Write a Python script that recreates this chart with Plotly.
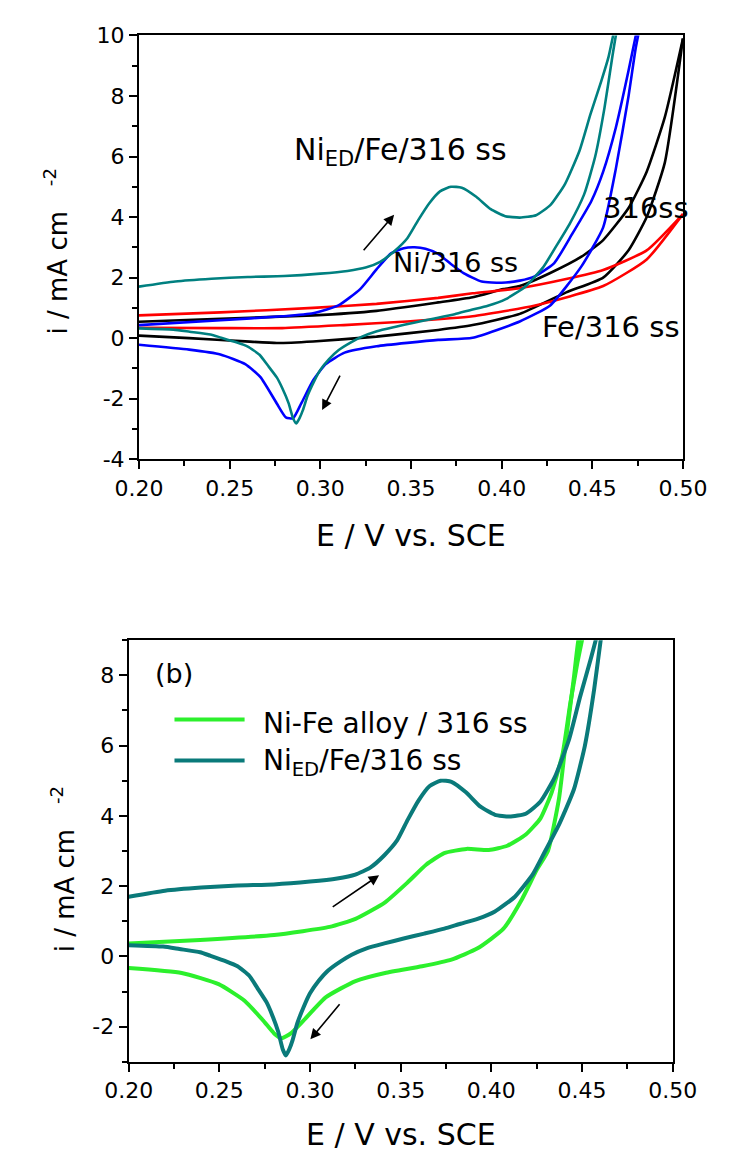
import plotly.graph_objects as go

W, H = 735, 1159

# ---------------- data (E / V vs. SCE, i / mA cm^-2) ----------------
# Ni_ED/Fe/316 ss (same dataset in both panels)
teal_fwd_E = [0.200, 0.220, 0.240, 0.260, 0.280, 0.300, 0.315, 0.325, 0.333, 0.341, 0.348, 0.354,
              0.360, 0.366, 0.372, 0.378, 0.386, 0.394, 0.402, 0.410, 0.419, 0.427, 0.435, 0.443,
              0.449, 0.455, 0.459, 0.4615, 0.464]
teal_fwd_i = [1.70, 1.87, 1.96, 2.02, 2.05, 2.13, 2.22, 2.33, 2.52, 2.88, 3.30, 3.90,
              4.45, 4.85, 5.00, 4.97, 4.67, 4.26, 4.03, 3.98, 4.06, 4.40, 5.10, 6.20,
              7.40, 8.50, 9.30, 10.0, 10.7]
teal_rev_E = [0.4655, 0.4630, 0.4608, 0.4567, 0.4516, 0.4455, 0.4373, 0.4292, 0.4230, 0.4130,
              0.4020, 0.3924, 0.3830, 0.3741, 0.3630, 0.3516, 0.3410, 0.3312, 0.3230, 0.3169,
              0.3100, 0.3047, 0.3000, 0.2965, 0.2930, 0.2904, 0.2885, 0.2867, 0.2850, 0.2825,
              0.2790, 0.2760, 0.2710, 0.2665, 0.2600, 0.2537, 0.2450, 0.2394, 0.2280, 0.2190, 0.2000]
teal_rev_i = [10.7, 10.0, 9.2, 7.6, 6.0, 4.75, 3.75, 2.95, 2.35, 1.70,
              1.28, 1.07, 0.93, 0.79, 0.65, 0.51, 0.37, 0.23, 0.05, -0.14,
              -0.40, -0.70, -1.05, -1.44, -1.90, -2.38, -2.65, -2.82, -2.65, -2.15,
              -1.65, -1.30, -0.90, -0.55, -0.28, -0.14, 0.02, 0.12, 0.21, 0.28, 0.32]

# Ni/316 ss
blue_fwd_E = [0.200, 0.245, 0.279, 0.296, 0.310, 0.322, 0.331, 0.339, 0.346, 0.352, 0.358, 0.365,
              0.372, 0.379, 0.389, 0.400, 0.410, 0.4185, 0.429, 0.439, 0.4495, 0.456, 0.463,
              0.470, 0.474, 0.477]
blue_fwd_i = [0.43, 0.59, 0.72, 0.82, 1.08, 1.62, 2.27, 2.80, 2.97, 3.00, 2.95, 2.78,
              2.45, 2.15, 1.87, 1.83, 1.90, 2.05, 2.48, 3.45, 4.53, 5.50, 6.96,
              8.84, 10.0, 10.8]
blue_rev_E = [0.478, 0.474, 0.470, 0.463, 0.456, 0.444, 0.4268, 0.410, 0.384, 0.365, 0.331,
              0.3134, 0.303, 0.296, 0.2895, 0.285, 0.281, 0.276, 0.267, 0.2586, 0.2449, 0.2277, 0.200]
blue_rev_i = [10.8, 9.6, 8.0, 5.6, 3.66, 2.37, 1.08, 0.55, 0.01, -0.06, -0.27,
              -0.48, -0.86, -1.40, -2.16, -2.65, -2.62, -2.16, -1.29, -0.86, -0.54, -0.38, -0.22]

# 316ss
black_fwd_E = [0.200, 0.245, 0.296, 0.331, 0.365, 0.384, 0.401, 0.410, 0.4268, 0.444, 0.456,
               0.470, 0.480, 0.490, 0.500]
black_fwd_i = [0.54, 0.64, 0.75, 0.90, 1.18, 1.35, 1.62, 1.72, 2.15, 2.69, 3.24,
               4.30, 5.50, 7.30, 9.90]
black_rev_E = [0.500, 0.490, 0.480, 0.470, 0.456, 0.4356, 0.410, 0.384, 0.365, 0.331, 0.296,
               0.276, 0.2586, 0.2277, 0.200]
black_rev_i = [9.90, 5.80, 4.00, 2.90, 2.00, 1.51, 0.80, 0.43, 0.27, 0.05, -0.11,
               -0.16, -0.11, 0.00, 0.08]

# Fe/316 ss
red_fwd_E = [0.200, 0.245, 0.296, 0.331, 0.365, 0.384, 0.410, 0.4356, 0.456, 0.480, 0.500]
red_fwd_i = [0.75, 0.85, 1.00, 1.13, 1.33, 1.48, 1.65, 1.95, 2.25, 2.90, 4.10]
red_rev_E = [0.500, 0.480, 0.456, 0.4185, 0.384, 0.348, 0.313, 0.279, 0.245, 0.200]
red_rev_i = [4.10, 2.60, 1.72, 1.08, 0.72, 0.55, 0.43, 0.33, 0.33, 0.34]

# Ni-Fe alloy / 316 ss
green_fwd_E = [0.200, 0.2394, 0.2802, 0.3108, 0.3251, 0.3414, 0.3537, 0.364, 0.374, 0.3863,
               0.3986, 0.4088, 0.419, 0.4271, 0.4333, 0.4394, 0.4435, 0.4476, 0.450, 0.452]
green_fwd_i = [0.37, 0.47, 0.61, 0.84, 1.07, 1.54, 2.10, 2.61, 2.94, 3.06,
               3.03, 3.15, 3.47, 3.93, 4.67, 5.79, 7.19, 8.40, 9.00, 9.60]
green_rev_E = [0.451, 0.448, 0.4455, 0.4414, 0.4373, 0.4312, 0.4251, 0.4169, 0.4067, 0.3924,
               0.378, 0.3618, 0.3414, 0.3251, 0.3088, 0.2965, 0.2894, 0.2843, 0.2802, 0.2741,
               0.2639, 0.2496, 0.2292, 0.200]
green_rev_i = [9.60, 9.00, 7.93, 6.26, 4.49, 3.00, 2.47, 1.63, 0.79, 0.23,
               -0.09, -0.28, -0.47, -0.70, -1.16, -1.82, -2.19, -2.33, -2.19, -1.82,
               -1.26, -0.79, -0.47, -0.33]

# tick labels
x_ticks = [0.20, 0.25, 0.30, 0.35, 0.40, 0.45, 0.50]
x_ticktext = ["0.20", "0.25", "0.30", "0.35", "0.40", "0.45", "0.50"]
y1_ticks = [-4, -2, 0, 2, 4, 6, 8, 10]
y1_ticktext = ["-4", "-2", "0", "2", "4", "6", "8", "10"]
y2_ticks = [-2, 0, 2, 4, 6, 8]
y2_ticktext = ["-2", "0", "2", "4", "6", "8"]

FONT = "DejaVu Sans"
TEAL = "#008080"
TEAL2 = "#0a7a7a"
GREEN = "#2cf02c"


def px(x):
    return x / W


def py(y):
    return 1 - y / H


fig = go.Figure()

# top panel
for E, I, col in [(black_fwd_E, black_fwd_i, "black"), (black_rev_E, black_rev_i, "black"),
                  (red_fwd_E, red_fwd_i, "#ff0000"), (red_rev_E, red_rev_i, "#ff0000"),
                  (blue_fwd_E, blue_fwd_i, "#0000ff"), (blue_rev_E, blue_rev_i, "#0000ff"),
                  (teal_fwd_E, teal_fwd_i, TEAL), (teal_rev_E, teal_rev_i, TEAL)]:
    fig.add_trace(go.Scatter(x=E, y=I, mode="lines", line=dict(color=col, width=2.6, shape="spline", smoothing=0.5),
                             xaxis="x", yaxis="y", showlegend=False))

# bottom panel
for E, I, col in [(green_fwd_E, green_fwd_i, GREEN), (green_rev_E, green_rev_i, GREEN),
                  (teal_fwd_E, teal_fwd_i, TEAL2), (teal_rev_E, teal_rev_i, TEAL2)]:
    fig.add_trace(go.Scatter(x=E, y=I, mode="lines", line=dict(color=col, width=4, shape="spline", smoothing=0.5),
                             xaxis="x2", yaxis="y2", showlegend=False))

axis_common = dict(showline=True, linecolor="black", linewidth=2, mirror=True, ticks="outside",
                   ticklen=8, tickwidth=2, tickcolor="black", showgrid=False, zeroline=False,
                   tickfont=dict(family=FONT, size=22, color="black"))

fig.update_layout(
    width=W, height=H, margin=dict(l=0, r=0, t=0, b=0),
    paper_bgcolor="white", plot_bgcolor="white",
    xaxis=dict(domain=[px(123), px(705)], range=[0.2, 0.5], anchor="y",
               tickvals=x_ticks, ticktext=x_ticktext,
               minor=dict(dtick=0.025, tick0=0.2, ticks="outside", ticklen=5, tickwidth=1.5, tickcolor="black"),
               **axis_common),
    yaxis=dict(domain=[py(457), py(24)], range=[-4, 10], anchor="x",
               tickvals=y1_ticks, ticktext=y1_ticktext,
               minor=dict(dtick=1, tick0=0, ticks="outside", ticklen=5, tickwidth=1.5, tickcolor="black"),
               **axis_common),
    xaxis2=dict(domain=[px(112), px(694)], range=[0.2, 0.5], anchor="y2",
                tickvals=x_ticks, ticktext=x_ticktext,
                minor=dict(dtick=0.025, tick0=0.2, ticks="outside", ticklen=5, tickwidth=1.5, tickcolor="black"),
                **axis_common),
    yaxis2=dict(domain=[py(1073), py(642)], range=[-3, 9], anchor="x2",
                tickvals=y2_ticks, ticktext=y2_ticktext,
                minor=dict(dtick=1, tick0=0, ticks="outside", ticklen=5, tickwidth=1.5, tickcolor="black"),
                **axis_common),
)

ann = []


def text(x, y, s, size, xanchor="left", yanchor="middle", angle=0, xref="paper", yref="paper"):
    ann.append(dict(x=x, y=y, xref=xref, yref=yref, text=s, showarrow=False, xanchor=xanchor,
                    yanchor=yanchor, textangle=angle, font=dict(family=FONT, size=size, color="black")))


# axis titles
text(px(414), py(535), "E / V vs. SCE", 30, xanchor="center")
text(px(403), py(1147), "E / V vs. SCE", 30, xanchor="center")
text(px(34), py(245), "i / mA cm&nbsp;&nbsp;&nbsp;<sup>-2</sup>", 26, xanchor="center", angle=-90)
text(px(42), py(876), "i / mA cm&nbsp;&nbsp;&nbsp;<sup>-2</sup>", 26, xanchor="center", angle=-90)

# top panel labels
text(0.2845, 6.18, "Ni<sub>ED</sub>/Fe/316 ss", 30, xref="x", yref="y")
text(0.339, 2.50, "Ni/316 ss", 27, xref="x", yref="y")
text(0.4546, 4.30, "316ss", 29, xref="x", yref="y")
text(0.4211, 0.36, "Fe/316 ss", 29, xref="x", yref="y")

# bottom panel
text(0.2134, 8.05, "(b)", 27, xref="x2", yref="y2")
text(px(254), py(727), "Ni-Fe alloy / 316 ss", 28)
text(px(254), py(767), "Ni<sub>ED</sub>/Fe/316 ss", 28)


def arrow(hx, hy, tx, ty, xr, yr):
    ann.append(dict(x=hx, y=hy, ax=tx, ay=ty, xref=xr, yref=yr, axref=xr, ayref=yr, text="",
                    showarrow=True, arrowhead=2, arrowsize=1.3, arrowwidth=1.6, arrowcolor="black"))


arrow(0.3407, 4.08, 0.3232, 2.85, "x", "y")
arrow(0.3010, -2.38, 0.3113, -1.19, "x", "y")
arrow(0.3381, 2.31, 0.3117, 1.38, "x2", "y2")
arrow(0.3002, -2.36, 0.3170, -1.32, "x2", "y2")

fig.update_layout(annotations=ann)

# legend samples for bottom panel
fig.add_shape(type="line", xref="paper", yref="paper", x0=px(161), x1=px(236), y0=py(723), y1=py(723),
              line=dict(color=GREEN, width=4))
fig.add_shape(type="line", xref="paper", yref="paper", x0=px(161), x1=px(236), y0=py(765), y1=py(765),
              line=dict(color=TEAL2, width=4))

fig.write_html("out.html")
